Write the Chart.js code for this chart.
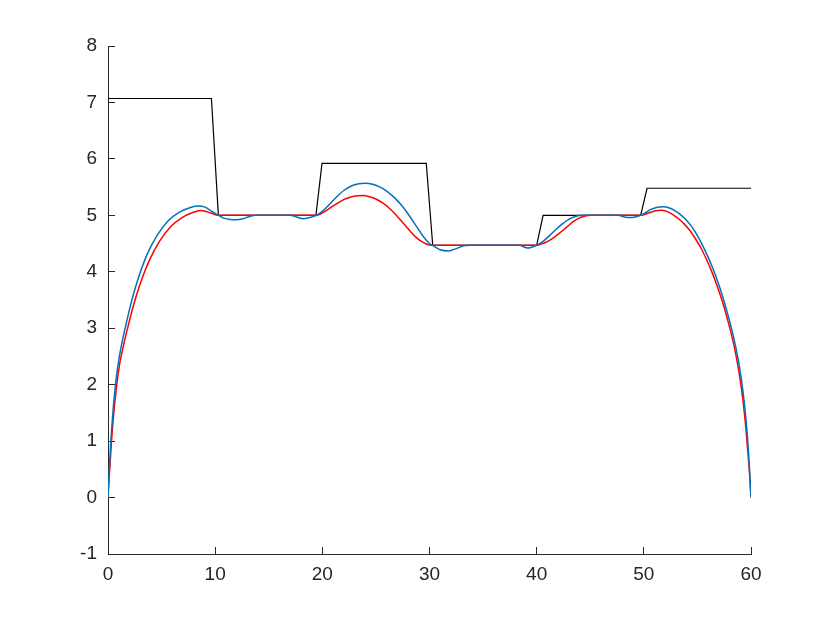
<!DOCTYPE html>
<html>
<head>
<meta charset="utf-8">
<script src="https://cdn.jsdelivr.net/npm/chart.js@4.4.0/dist/chart.umd.min.js"></script>
<style>
  body { margin: 0; background: #fff; }
</style>
</head>
<body>
<canvas id="chart" width="830" height="623"></canvas>
<script>
// blue curve
const blueX = [0, 0.1, 0.25, 0.45, 0.7, 1.0, 1.3, 1.6, 2.2, 2.9, 3.7, 4.6, 5.6, 6.7, 7.7, 8.4, 9.0, 9.7, 10.3,
  10.8, 11.4, 12.0, 12.6, 13.2, 13.8, 17.0, 17.6, 18.2, 18.8, 19.45,
  20.0, 20.7, 21.3, 22.0, 22.7, 23.4, 24.0, 24.7, 25.4, 26.0, 26.8, 27.6, 28.2, 28.8, 29.4, 30.0, 30.35,
  31.0, 31.75, 32.5, 33.2, 33.8, 38.4, 38.8, 39.2, 39.6, 40.0,
  40.6, 41.2, 41.8, 42.4, 43.0, 43.6, 44.3, 47.6, 48.2, 48.7, 49.2, 49.7,
  50.1, 50.6, 51.2, 51.8, 52.4, 53.0, 53.5, 54.0, 54.5, 55.0, 55.5, 56.0, 56.5, 57.0, 57.5, 58.0,
  58.4, 58.8, 59.1, 59.4, 59.65, 59.85, 60];
const blueY = [0, 0.42, 0.95, 1.49, 2.0, 2.43, 2.74, 3.0, 3.48, 3.93, 4.33, 4.65, 4.9, 5.06, 5.14, 5.165, 5.15, 5.07, 5.0,
  4.95, 4.925, 4.92, 4.94, 4.98, 5.0, 5.0, 4.97, 4.94, 4.96, 5.0,
  5.07, 5.2, 5.32, 5.44, 5.52, 5.56, 5.57, 5.55, 5.5, 5.43, 5.3, 5.13, 4.97, 4.8, 4.63, 4.5, 4.46,
  4.39, 4.37, 4.41, 4.46, 4.47, 4.47, 4.44, 4.42, 4.44, 4.47,
  4.54, 4.64, 4.75, 4.85, 4.93, 4.98, 5.0, 5.0, 4.97, 4.96, 4.97, 5.0,
  5.04, 5.1, 5.14, 5.15, 5.13, 5.07, 5.0, 4.91, 4.79, 4.64, 4.46, 4.26, 4.03, 3.77, 3.47, 3.13,
  2.82, 2.45, 2.1, 1.64, 1.12, 0.55, 0];

// red curve
const redX = [0, 0.1, 0.3, 0.5, 0.8, 1.1, 1.45, 1.8, 2.4, 3.1, 3.9, 4.8, 5.8, 6.9, 7.9, 8.6, 9.0, 9.6, 10.3,
  19.4, 19.9, 20.5, 21.2, 21.9, 22.6, 23.3, 23.8, 24.4, 25.0, 25.7, 26.4, 27.0, 27.6, 28.2, 28.8, 29.4, 29.9, 30.35,
  40.0, 40.7, 41.4, 42.1, 42.8, 43.5, 44.2, 45.0, 49.7,
  50.5, 51.1, 51.6, 52.2, 52.8, 53.3, 53.8, 54.3, 54.8, 55.3, 55.8, 56.3, 56.8, 57.3, 57.8,
  58.2, 58.6, 58.95, 59.25, 59.5, 59.72, 59.88, 60];
const redY = [0, 0.33, 0.92, 1.42, 1.97, 2.38, 2.7, 2.98, 3.42, 3.84, 4.22, 4.54, 4.79, 4.96, 5.05, 5.085, 5.075, 5.04, 5.0,
  5.0, 5.03, 5.1, 5.19, 5.27, 5.32, 5.345, 5.35, 5.33, 5.29, 5.21, 5.1, 4.98, 4.85, 4.72, 4.6, 4.52, 4.48, 4.47,
  4.47, 4.51, 4.58, 4.68, 4.79, 4.9, 4.97, 5.0, 5.0,
  5.045, 5.08, 5.09, 5.065, 5.0, 4.93, 4.84, 4.73, 4.59, 4.43, 4.24, 4.02, 3.77, 3.49, 3.16,
  2.87, 2.52, 2.14, 1.72, 1.27, 0.78, 0.38, 0];

// black step line
const blackX = [0, 9.65, 10.3, 19.4, 19.97, 29.7, 30.3, 40.0, 40.6, 49.7, 50.3, 60];
const blackY = [7.07, 7.07, 5.0, 5.0, 5.92, 5.92, 4.47, 4.47, 5.0, 5.0, 5.48, 5.48];

const axisColor = '#262626';

function toPoints(xs, ys) {
    return xs.map((x, i) => ({ x: x, y: ys[i] }));
}

const ctx = document.getElementById('chart').getContext('2d');

new Chart(ctx, {
    type: 'line',
    data: {
        datasets: [
            {
                data: toPoints(blueX, blueY),
                borderColor: '#0072BD',
                borderWidth: 1.5,
                pointRadius: 0,
                cubicInterpolationMode: 'monotone',
                fill: false
            },
            {
                data: toPoints(redX, redY),
                borderColor: '#FF0000',
                borderWidth: 1.5,
                pointRadius: 0,
                cubicInterpolationMode: 'monotone',
                fill: false
            },
            {
                data: toPoints(blackX, blackY),
                borderColor: '#000000',
                borderWidth: 1.2,
                pointRadius: 0,
                tension: 0,
                fill: false
            }
        ]
    },
    options: {
        responsive: false,
        animation: false,
        devicePixelRatio: 1,
        layout: {
            padding: { left: 0, right: 79, top: 46, bottom: 0 }
        },
        plugins: {
            legend: { display: false },
            tooltip: { enabled: false }
        },
        scales: {
            x: {
                type: 'linear',
                min: 0,
                max: 60,
                afterFit: (s) => { s.height = 69; },
                ticks: {
                    stepSize: 10,
                    padding: 16,
                    color: axisColor,
                    font: { family: 'Liberation Sans', size: 19 }
                },
                grid: { drawOnChartArea: false, tickLength: -7, color: axisColor },
                border: { color: axisColor }
            },
            y: {
                type: 'linear',
                min: -1,
                max: 8,
                afterFit: (s) => { s.width = 108; },
                ticks: {
                    stepSize: 1,
                    padding: 18,
                    color: axisColor,
                    font: { family: 'Liberation Sans', size: 19 }
                },
                grid: { drawOnChartArea: false, tickLength: -7, color: axisColor },
                border: { color: axisColor }
            }
        }
    }
});
</script>
</body>
</html>
